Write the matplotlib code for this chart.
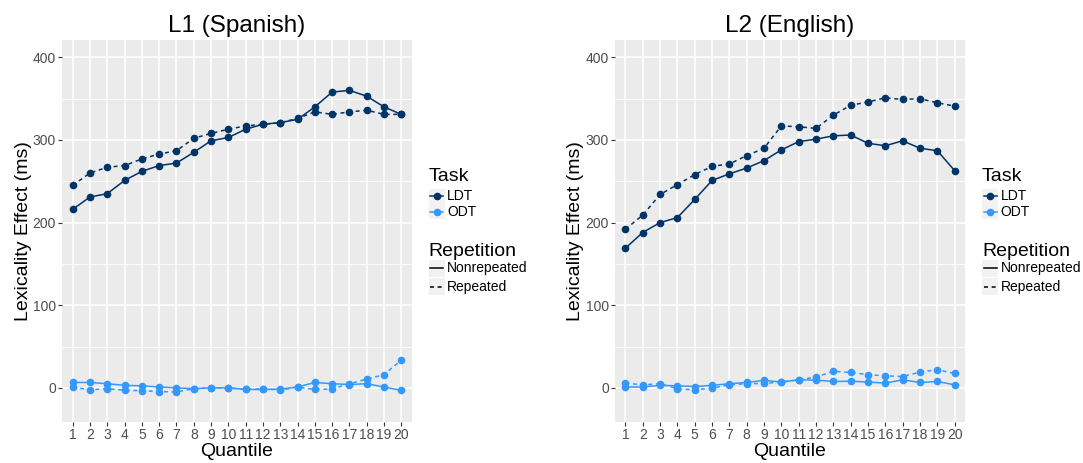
import matplotlib
matplotlib.use("Agg")
import matplotlib.pyplot as plt
from matplotlib.lines import Line2D
from matplotlib.patches import Rectangle
from matplotlib.transforms import Affine2D
import numpy as np

plt.rcParams['font.family'] = ['Liberation Sans', 'DejaVu Sans']

quantiles = np.arange(1, 21)
tasks = ["LDT", "ODT"]
repetitions = ["Nonrepeated", "Repeated"]

# L1 (Spanish) lexicality effects (ms)
l1_ldt_nonrep = [216, 231, 235, 251, 262, 269, 272, 285, 299, 303,
                 313, 319, 321, 325, 340, 358, 360, 353, 340, 331]
l1_ldt_rep = [245, 260, 267, 269, 277, 283, 287, 302, 308, 313,
              317, 319, 321, 326, 334, 331, 334, 336, 331, 331]
l1_odt_nonrep = [6.5, 6.5, 5, 3, 2.4, 1, 0, -1, 0, 0,
                 -2, -2, -1.5, 1, 6.5, 5, 4, 5, 1, -3]
l1_odt_rep = [1, -2.5, -1, -3, -3.5, -4.5, -5, -1, 0, 0,
              -2, -1, -3, 1, -2, -1.5, 5, 10.5, 16, 33.5]

# L2 (English) lexicality effects (ms)
l2_ldt_nonrep = [169, 188, 200, 206, 228, 251, 259, 266, 275, 288,
                 298, 301, 305, 306, 296, 293, 299, 290, 287, 263]
l2_ldt_rep = [192, 209, 234, 246, 258, 268, 271, 281, 290, 317,
              316, 314, 330, 342, 346, 351, 349, 350, 345, 341]
l2_odt_nonrep = [1, 1, 3, 2.4, 1.6, 3, 5, 6.5, 9, 7,
                 9.7, 9.3, 7.7, 8, 7, 5.7, 9.7, 6.5, 7.7, 3.6]
l2_odt_rep = [5.7, 3.6, 5, -1.2, -2.4, -0.4, 3.6, 5, 5.3, 7,
              9.7, 13, 20, 18.6, 16, 14.5, 13.7, 19, 22, 17.4]

panels = [
    ("L1 (Spanish)", {("LDT", "Nonrepeated"): l1_ldt_nonrep,
                      ("LDT", "Repeated"): l1_ldt_rep,
                      ("ODT", "Nonrepeated"): l1_odt_nonrep,
                      ("ODT", "Repeated"): l1_odt_rep}),
    ("L2 (English)", {("LDT", "Nonrepeated"): l2_ldt_nonrep,
                      ("LDT", "Repeated"): l2_ldt_rep,
                      ("ODT", "Nonrepeated"): l2_odt_nonrep,
                      ("ODT", "Repeated"): l2_odt_rep}),
]

colors = {"LDT": "#003366", "ODT": "#3399ff"}
dash = (0, (2.6, 2.4))
styles = {"Nonrepeated": "-", "Repeated": dash}

W, H = 1083, 463
fig = plt.figure(figsize=(W / 100, H / 100), dpi=100)
# pixel coordinates with origin at the top-left corner
px = Affine2D().scale(1 / W, -1 / H).translate(0, 1) + fig.transFigure

panel_x = [(62.3, 411.7), (615, 965)]
top, bottom = 40, 421.7

for (title, series), (x0, x1) in zip(panels, panel_x):
    ax = fig.add_axes([x0 / W, (H - bottom) / H, (x1 - x0) / W, (bottom - top) / H])
    ax.set_facecolor("#ebebeb")
    for s in ax.spines.values():
        s.set_visible(False)
    ax.set_xlim(0.4, 20.6)
    ax.set_ylim(-41, 421)
    ax.set_xticks(quantiles)
    ax.set_xticklabels([str(q) for q in quantiles])
    ax.set_yticks([0, 100, 200, 300, 400])
    ax.set_yticks([50, 150, 250, 350], minor=True)
    ax.grid(True, which="major", color="white", lw=1.1)
    ax.grid(True, which="minor", axis="y", color="white", lw=0.55)
    ax.tick_params(which="major", length=3, width=0.8, color="#333333",
                   labelsize=10, labelcolor="#4d4d4d", pad=1.5)
    ax.tick_params(which="minor", length=0)
    ax.set_axisbelow(True)

    for task in tasks:
        for rep in repetitions:
            ax.plot(quantiles, series[(task, rep)], color=colors[task],
                    ls=styles[rep], lw=1.1, marker="o", ms=4.5, zorder=3)

    ax.set_title(title, fontsize=17.5, pad=5.5)
    ax.set_xlabel("Quantile", fontsize=14)
    ax.set_ylabel("Lexicality Effect (ms)", fontsize=14)
    ax.xaxis.set_label_coords(0.5, -0.057)
    ax.yaxis.set_label_coords(-0.088, 0.5)

    # legends for Task and Repetition
    lx = x1 + 17
    fig.text(lx, 181, "Task", transform=px, fontsize=14, va="baseline")
    for task, yc in zip(tasks, [196, 211.7]):
        fig.add_artist(Rectangle((lx, yc - 7.5), 16, 15, transform=px,
                                 facecolor="#f2f2f2", edgecolor="none"))
        fig.add_artist(Line2D([lx + 1.5, lx + 14.5], [yc, yc], transform=px,
                              color=colors[task], lw=1.1))
        fig.add_artist(Line2D([lx + 8], [yc], transform=px, color=colors[task],
                              marker="o", ms=4.5))
        fig.text(lx + 18.5, yc, task, transform=px, fontsize=10, va="center")
    fig.text(lx, 256, "Repetition", transform=px, fontsize=14, va="baseline")
    for rep, yc in zip(repetitions, [268.3, 286.7]):
        fig.add_artist(Rectangle((lx, yc - 8.5), 16, 17, transform=px,
                                 facecolor="#f2f2f2", edgecolor="none"))
        fig.add_artist(Line2D([lx + 1.5, lx + 14.5], [yc, yc], transform=px,
                              color="black", lw=1.1, ls=styles[rep]))
        fig.text(lx + 18.5, yc, rep, transform=px, fontsize=10, va="center")

fig.savefig("out.png", dpi=100)
